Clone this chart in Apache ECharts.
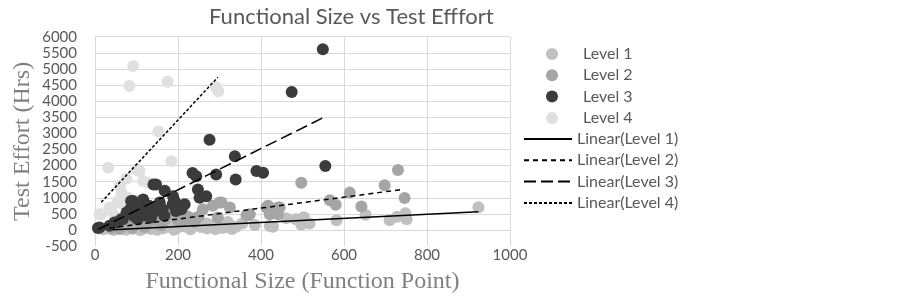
<!DOCTYPE html>
<html>
<head>
<meta charset="utf-8">
<script src="https://cdn.jsdelivr.net/npm/echarts@6/dist/echarts.min.js"></script>
<style>
  html, body { margin: 0; padding: 0; background: #fff; }
  #chart { width: 903px; height: 299px; }
</style>
</head>
<body>
<div id="chart"></div>
<script>
// [functional size, test effort]
var level1 = [
  [924, 705], [461, 363], [484, 332], [503, 394], [497, 160], [517, 200], [421, 124], [385, 155],
  [308, 60], [582, 300], [652, 475], [710, 300], [728, 410], [748, 518], [751, 335], [309, 100],
  [429, 100], [20, 20], [30, 50], [45, 0], [60, 30], [75, 10], [90, 40], [105, 20], [120, 60],
  [135, 30], [150, 80], [165, 50], [180, 100], [195, 40], [210, 120], [225, 70], [240, 150],
  [255, 90], [270, 200], [285, 130], [300, 180], [320, 250], [340, 100], [355, 200], [270, 50],
  [230, 20], [190, 10], [150, 5], [110, 0], [80, 100], [250, 300], [290, 20], [330, 30]
];
var level2 = [
  [497, 1470], [730, 1860], [698, 1390], [746, 990], [614, 1160], [642, 730], [566, 920], [580, 780],
  [445, 700], [417, 750], [441, 700], [421, 490], [441, 490], [373, 490], [300, 850], [369, 460],
  [188, 490], [220, 440], [260, 640], [284, 750], [305, 850], [325, 700], [296, 390], [365, 460],
  [413, 700], [183, 520], [215, 310], [40, 60], [55, 100], [70, 150], [85, 120], [100, 200],
  [115, 180], [130, 250], [150, 300], [170, 350], [200, 300], [230, 380], [250, 420], [60, 40],
  [90, 60], [120, 90], [160, 150], [240, 250]
];
var level3 = [
  [549, 5610], [474, 4280], [555, 1990], [276, 2800], [337, 2290], [339, 1570], [235, 1770],
  [244, 1670], [292, 1720], [389, 1830], [405, 1780], [141, 1410], [168, 1220], [248, 1260],
  [252, 1000], [268, 1050], [188, 1050], [192, 900], [208, 640], [216, 800], [92, 900], [116, 950],
  [120, 800], [156, 850], [147, 1410], [7, 60], [11, 80], [35, 130], [47, 230], [52, 230], [63, 330],
  [67, 330], [76, 540], [79, 540], [87, 900], [92, 440], [99, 590], [103, 330], [108, 540],
  [123, 640], [124, 440], [135, 390], [140, 540], [143, 590], [163, 640], [167, 440], [187, 800],
  [195, 590], [110, 700], [130, 750], [150, 650], [85, 650], [100, 800]
];
var level4 = [
  [92, 5090], [83, 4470], [175, 4600], [292, 4430], [297, 4310], [153, 3060], [32, 1930], [184, 2130],
  [100, 1880], [76, 1590], [107, 1830], [116, 1520], [128, 1470], [60, 1370], [64, 1160], [11, 490],
  [35, 700], [47, 440], [39, 640], [15, 490], [63, 830], [55, 900], [80, 1000], [100, 700],
  [120, 300], [140, 200], [180, 150], [200, 250], [60, 250], [90, 300]
];
// trend line end points
var trend1 = [[43, 5], [924, 570]];
var trend2 = [[35, 60], [736, 1250]];
var trend3 = [[8, 20], [549, 3480]];
var trend4 = [[15, 860], [296, 4740]];

var xTicks = { min: 0, max: 1000, step: 200 };
var yTicks = { min: -500, max: 6000, step: 500 };

var labelFont = 'Lato, "Open Sans", sans-serif';
var serifFont = '"Liberation Serif", "DejaVu Serif", serif';

var chart = echarts.init(document.getElementById('chart'));

function dots(name, data, color) {
  return {
    name: name, type: 'scatter', data: data,
    symbol: 'circle', symbolSize: 12,
    itemStyle: { color: color, opacity: 1 },
    emphasis: { disabled: true }
  };
}
function trend(name, data, dash) {
  return {
    name: name, type: 'line', data: data,
    symbol: 'none', z: 5, silent: true,
    lineStyle: { color: '#000', width: 1.5, type: dash },
    itemStyle: { color: '#000' }
  };
}

chart.setOption({
  animation: false,
  title: {
    text: 'Functional Size vs Test Efffort',
    left: 204, top: 1,
    textStyle: { fontFamily: labelFont, fontSize: 22, fontWeight: 'normal', color: '#595959' }
  },
  grid: { left: 95, right: 393, top: 36.7, bottom: 52.9, outerBoundsMode: 'none' },
  legend: [
    {
      data: ['Level 1', 'Level 2', 'Level 3', 'Level 4'],
      orient: 'vertical', left: 541, top: 41,
      itemWidth: 12, itemHeight: 12, itemGap: 5.3,
      icon: 'circle',
      textStyle: { fontFamily: labelFont, fontSize: 16, color: '#595959', lineHeight: 16, padding: [0, 0, 0, 20] }
    },
    {
      data: ['Linear(Level 1)', 'Linear(Level 2)', 'Linear(Level 3)', 'Linear(Level 4)'],
      orient: 'vertical', left: 518, top: 126,
      itemWidth: 48, itemHeight: 12, itemGap: 5.3,
      itemStyle: { opacity: 0 },
      textStyle: { fontFamily: labelFont, fontSize: 16, color: '#595959', lineHeight: 16 }
    }
  ],
  xAxis: {
    type: 'value', min: xTicks.min, max: xTicks.max, interval: xTicks.step,
    name: 'Functional Size (Function Point)', nameLocation: 'middle', nameGap: 24,
    nameTextStyle: { fontFamily: serifFont, fontSize: 24, color: '#808080' },
    axisLine: { show: false }, axisTick: { show: false },
    axisLabel: { margin: 2, fontFamily: labelFont, fontSize: 15, color: '#595959', formatter: function (v) { return String(v); } },
    splitLine: { show: true, lineStyle: { color: '#d9d9d9', width: 1 } }
  },
  yAxis: {
    type: 'value', min: yTicks.min, max: yTicks.max, interval: yTicks.step,
    name: 'Test Effort (Hrs)', nameLocation: 'middle', nameGap: 60,
    nameTextStyle: { fontFamily: serifFont, fontSize: 24, color: '#808080' },
    axisLine: { show: false }, axisTick: { show: false },
    axisLabel: { margin: 18, fontFamily: labelFont, fontSize: 15, color: '#595959', formatter: function (v) { return String(v); } },
    splitLine: { show: true, showMinLine: false, lineStyle: { color: '#d9d9d9', width: 1 } }
  },
  series: [
    dots('Level 4', level4, '#e0e0e0'),
    dots('Level 1', level1, '#c0c0c0'),
    dots('Level 2', level2, '#a5a5a5'),
    dots('Level 3', level3, '#3b3b3b'),
    trend('Linear(Level 1)', trend1, 'solid'),
    trend('Linear(Level 2)', trend2, [5, 4]),
    trend('Linear(Level 3)', trend3, [12, 5]),
    trend('Linear(Level 4)', trend4, [3, 2])
  ]
});
</script>
</body>
</html>
